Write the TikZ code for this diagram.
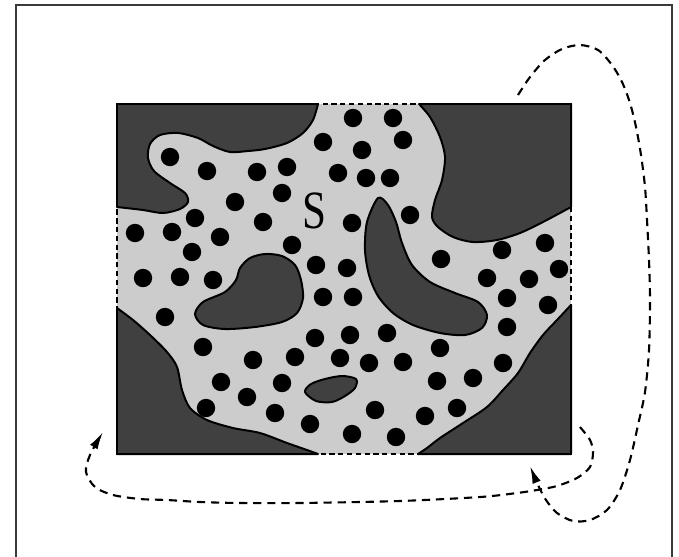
\documentclass[tikz,border=0pt]{standalone}
\usepackage{fontspec}
\setmainfont{Liberation Serif}
\usetikzlibrary{arrows.meta}
\definecolor{foamInk}{HTML}{000000}
\definecolor{foamDark}{HTML}{404040}
\definecolor{foamLight}{HTML}{CCCCCC}
\definecolor{foamFrame}{HTML}{3A3A3A}
\tikzset{
  every picture/.style={text=foamInk},
  solid region/.style={fill=foamDark, draw=foamInk, line width=1.7pt, line join=round},
  pore space/.style={fill=foamLight},
  grain/.style={fill=foamInk},
  cell wall/.style={draw=foamInk, line width=2.4pt},
  cell open/.style={draw=foamInk, line width=1pt, dash pattern=on 4.5pt off 3pt},
  path guide/.style={draw=foamInk, line width=1.8pt, dash pattern=on 7pt off 5pt,
    -{Latex[length=15pt,width=7.5pt]}},
  outer frame/.style={draw=foamFrame, line width=1.2pt}
}

\begin{document}
\begin{tikzpicture}[x=0.03cm,y=-0.03cm]
  \useasboundingbox (0,0) rectangle (679,556);
  \clip (0,0) rectangle (679,556);
  \draw[outer frame] (16,580) -- (16,5) -- (672,5) -- (672,580);

  % cell: pore space, then the solid parts
  \fill[pore space] (117,104) rectangle (571,454);
  \filldraw[solid region] (117,104) -- plot[smooth] coordinates {(318,104) (313,120) (303,133) (287,143)
    (265,149) (248,151) (230,152) (213,146) (198,138) (178,133) (160,135) (150,144) (148,158)
    (154,171) (170,183) (185,193) (188,202) (180,209) (163,213) (143,210) (117,207)} -- cycle;
  \filldraw[solid region] (571,104) -- plot[smooth] coordinates {(419,104) (430,117) (440,137) (445,157)
    (442,180) (435,200) (432,217) (438,227) (453,237) (473,242) (497,240) (520,233) (543,222)
    (571,207)} -- cycle;
  \filldraw[solid region] (117,454) -- plot[smooth] coordinates {(117,308) (133,320) (150,335) (167,352)
    (177,367) (182,390) (190,408) (207,420) (233,428) (260,433) (287,443) (307,450) (318,454)} -- cycle;
  \filldraw[solid region] (571,454) -- plot[smooth] coordinates {(418,454) (427,448) (440,438) (463,423)
    (487,407) (503,390) (518,373) (530,353) (543,335) (557,320) (571,305)} -- cycle;
  \filldraw[solid region] plot[smooth cycle] coordinates {(240,268) (250,258) (265,254) (282,256)
    (295,265) (301,280) (303,298) (297,313) (282,322) (255,327) (225,329) (203,325) (195,314)
    (203,302) (225,292) (236,280)};
  \filldraw[solid region] plot[smooth cycle] coordinates {(378,198) (388,205) (396,222) (402,243)
    (412,265) (430,282) (455,293) (478,302) (487,315) (482,328) (465,335) (440,333) (413,325)
    (393,313) (378,296) (369,275) (365,250) (367,222)};
  \filldraw[solid region] plot[smooth cycle] coordinates {(305,392) (311,384) (325,379) (342,376)
    (356,379) (355,388) (345,396) (332,402) (316,401)};

  \foreach \px/\py in {353/118, 393/118, 403/140, 323/142, 362/150, 170/157, 207/171, 257/172,
      287/167, 338/173, 366/178, 390/178, 282/193, 235/202, 410/215, 195/218, 263/222, 352/223,
      135/233, 172/232, 220/237, 292/245, 192/252, 441/259, 502/250, 545/243, 316/265, 347/268,
      559/269, 143/278, 180/277, 213/280, 487/278, 529/279, 323/297, 353/297, 507/298, 548/305,
      165/317, 507/327, 315/338, 350/335, 387/333, 203/347, 440/348, 253/360, 295/357, 340/358,
      369/363, 403/362, 503/363, 221/382, 282/383, 437/381, 473/378, 247/397, 206/408, 275/413,
      375/410, 457/408, 425/416, 310/424, 352/434, 396/437}
    \fill[grain] (\px,\py) circle[radius=9.2];

  % cell boundary
  \draw[cell open] (117,104) rectangle (571,454);
  \draw[cell wall] (318,104) -- (117,104) -- (117,205);
  \draw[cell wall] (419,104) -- (571,104) -- (571,207);
  \draw[cell wall] (571,305) -- (571,454) -- (418,454);
  \draw[cell wall] (318,454) -- (117,454) -- (117,308);

  \node[font=\fontsize{46}{48}\selectfont, inner sep=0pt, xscale=0.8, transform shape] (slabel)
    at (314,211) {S};

  % paths leaving the cell
  \coordinate (outstart) at (518,95);
  \coordinate (outend) at (530,466);
  \coordinate (backstart) at (580,427);
  \coordinate (backend) at (103,432);
  \draw[path guide] plot[smooth] coordinates {(outstart) (530,77) (545,60) (562,49) (580,45) (598,50)
    (612,65) (622,82) (630,103) (636,127) (641,155) (645,187) (647,220) (649,260) (650,300)
    (649,350) (645,392) (638,425) (630,460) (620,490) (607,510) (590,520) (573,521) (557,513)
    (546,500) (538,485) (outend)};
  \draw[path guide] plot[smooth] coordinates {(backstart) (590,440) (593,452) (590,467) (577,478)
    (557,486) (537,490) (517,493) (480,497) (400,501) (300,503) (240,503) (200,502) (167,500)
    (140,499) (113,495) (95,487) (86,472) (90,455) (backend)};
\end{tikzpicture}
\end{document}
